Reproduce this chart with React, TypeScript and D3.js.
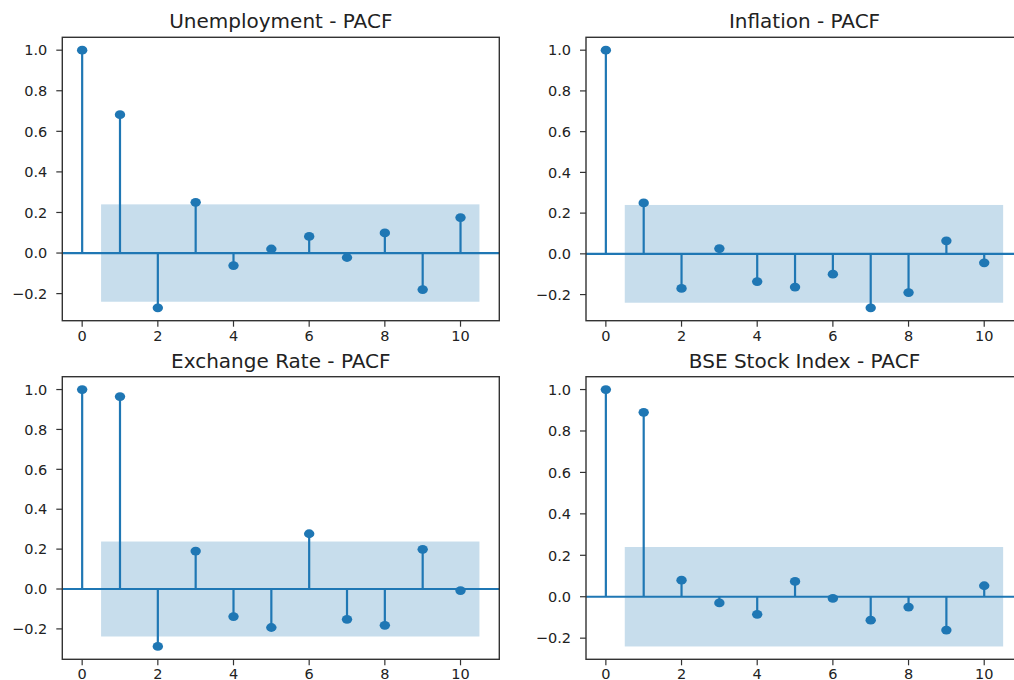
import React from "react";
import * as d3 from "d3";

const lags = [0, 1, 2, 3, 4, 5, 6, 7, 8, 9, 10];
const xTicks = [0, 2, 4, 6, 8, 10];
const yTicks = [-0.2, 0.0, 0.2, 0.4, 0.6, 0.8, 1.0];

const titles = [
  "Unemployment - PACF",
  "Inflation - PACF",
  "Exchange Rate - PACF",
  "BSE Stock Index - PACF",
];

const unemployment = [1.0, 0.682, -0.27, 0.25, -0.062, 0.02, 0.082, -0.022, 0.099, -0.18, 0.175];
const inflation = [1.0, 0.25, -0.17, 0.026, -0.136, -0.163, -0.1, -0.265, -0.19, 0.064, -0.044];
const exchangeRate = [1.0, 0.965, -0.288, 0.19, -0.138, -0.193, 0.277, -0.152, -0.182, 0.199, -0.008];
const bseIndex = [1.0, 0.89, 0.08, -0.03, -0.085, 0.074, -0.008, -0.113, -0.05, -0.161, 0.053];

const confBand = [0.24, 0.24, 0.238, 0.24];

const seriesList = [unemployment, inflation, exchangeRate, bseIndex];

const BLUE = "#1f77b4";
const FONT = "DejaVu Sans, sans-serif";

const panels = [
  { left: 62.3, top: 37.3, width: 437, height: 283.4 },
  { left: 586, top: 37.3, width: 437, height: 283.4 },
  { left: 62.3, top: 376.7, width: 437, height: 282.6 },
  { left: 586, top: 376.7, width: 437, height: 282.6 },
];

function Panel({ idx }: { idx: number }) {
  const p = panels[idx];
  const vals = seriesList[idx];
  const conf = confBand[idx];
  const ymin = Math.min(d3.min(vals) as number, -conf);
  const ymax = Math.max(d3.max(vals) as number, conf);
  const pad = (ymax - ymin) * 0.05;
  const xmin = 0;
  const xmax = 10.5;
  const xpad = (xmax - xmin) * 0.05;
  const x = d3.scaleLinear().domain([xmin - xpad, xmax + xpad]).range([0, p.width]);
  const y = d3.scaleLinear().domain([ymin - pad, ymax + pad]).range([p.height, 0]);
  const clipId = `clip${idx}`;
  return (
    <g transform={`translate(${p.left},${p.top})`}>
      <defs>
        <clipPath id={clipId}>
          <rect x={0} y={0} width={p.width} height={p.height} />
        </clipPath>
      </defs>
      <g clipPath={`url(#${clipId})`}>
        <rect
          x={x(0.5)}
          y={y(conf)}
          width={x(10.5) - x(0.5)}
          height={y(-conf) - y(conf)}
          fill={BLUE}
          fillOpacity={0.25}
        />
        <line x1={0} x2={p.width} y1={y(0)} y2={y(0)} stroke={BLUE} strokeWidth={2.2} />
        {lags.map((l, i) => (
          <line
            key={`s${i}`}
            x1={x(l)}
            x2={x(l)}
            y1={y(0)}
            y2={y(vals[i])}
            stroke={BLUE}
            strokeWidth={2.2}
          />
        ))}
        {lags.map((l, i) => (
          <ellipse key={`m${i}`} cx={x(l)} cy={y(vals[i])} rx={5.2} ry={4.4} fill={BLUE} />
        ))}
      </g>
      <rect x={0} y={0} width={p.width} height={p.height} fill="none" stroke="#333" strokeWidth={1.4} />
      {yTicks.map((t) => (
        <g key={`y${t}`} transform={`translate(0,${y(t)})`}>
          <line x1={-6} x2={0} stroke="#333" strokeWidth={1.2} />
          <text
            x={-15}
            dy="0.36em"
            textAnchor="end"
            fontSize={14.5}
            fontFamily={FONT}
            fill="#222"
          >
            {t < 0 ? `\u2212${Math.abs(t).toFixed(1)}` : t.toFixed(1)}
          </text>
        </g>
      ))}
      {xTicks.map((t) => (
        <g key={`x${t}`} transform={`translate(${x(t)},${p.height})`}>
          <line y1={0} y2={6} stroke="#333" strokeWidth={1.2} />
          <text y={20} textAnchor="middle" fontSize={14.5} fontFamily={FONT} fill="#222">
            {t}
          </text>
        </g>
      ))}
      <text
        x={p.width / 2}
        y={-9}
        textAnchor="middle"
        fontSize={20}
        fontFamily={FONT}
        fill="#222"
      >
        {titles[idx]}
      </text>
    </g>
  );
}

export default function App() {
  return (
    <svg
      width={1014}
      height={680}
      style={{ position: "absolute", left: 0, top: 0, background: "#fff", display: "block" }}
    >
      <rect x={0} y={0} width={1014} height={680} fill="#fff" />
      {[0, 1, 2, 3].map((i) => (
        <Panel key={i} idx={i} />
      ))}
    </svg>
  );
}
